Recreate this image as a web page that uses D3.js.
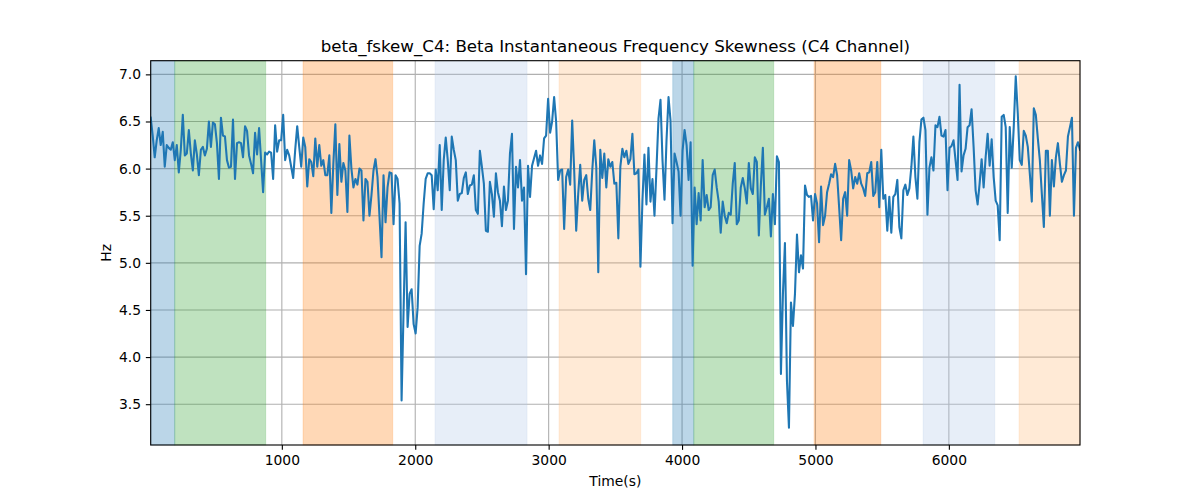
<!DOCTYPE html>
<html>
<head>
<meta charset="utf-8">
<script src="https://cdn.jsdelivr.net/npm/d3@7"></script>
<style>
  html, body { margin: 0; padding: 0; background: #fff; }
  svg { display: block; font-family: "DejaVu Sans", sans-serif; }
</style>
</head>
<body>
<svg id="chart" width="1200" height="500"></svg>
<script>
// ---- data ----
const titleText = "beta_fskew_C4: Beta Instantaneous Frequency Skewness (C4 Channel)";
const xLabel = "Time(s)";
const yLabel = "Hz";
const xDomain = [17, 6983];
const yDomain = [3.067, 7.145];
const xTicks = [1000, 2000, 3000, 4000, 5000, 6000];
const yTicks = [3.5, 4.0, 4.5, 5.0, 5.5, 6.0, 6.5, 7.0];
const timeStart = 17;
const timeStep = 15.045;

const values = [
  // 17 - 880 s
  6.54, 6.35, 6.12, 6.30, 6.43, 6.25, 6.39, 6.02, 6.25, 6.22, 6.20, 6.28, 6.09, 6.25, 5.96, 6.20, 6.57, 6.14, 6.16, 6.41,
  6.16, 5.98, 6.30, 6.15, 5.93, 6.20, 6.23, 6.14, 6.21, 6.50, 6.23, 6.49, 6.47, 6.27, 5.89, 6.54, 6.35, 6.34, 6.09, 6.01,
  6.02, 6.52, 5.89, 6.27, 6.28, 6.27, 6.12, 6.45, 6.40, 6.14, 6.05, 5.95, 6.38, 6.15, 6.43, 6.09, 5.75, 6.17,
  // ~900 - 1760 s
  6.15, 6.18, 6.17, 5.89, 6.46, 6.18, 6.30, 6.30, 6.57, 6.09, 6.20, 6.14, 6.02, 5.90, 6.20, 6.45, 6.23, 6.02, 6.33, 6.23,
  5.81, 6.10, 6.07, 5.92, 6.32, 6.02, 6.25, 6.03, 6.09, 5.93, 5.93, 6.14, 5.53, 6.05, 6.47, 5.72, 6.26, 5.86, 6.06, 5.98,
  5.54, 6.35, 6.00, 5.80, 5.89, 5.83, 6.00, 5.98, 5.45, 5.89, 5.86, 5.50, 5.72, 5.98, 6.10, 5.91, 5.49, 5.06,
  // ~1780 - 2630 s
  5.93, 5.43, 5.80, 5.96, 5.95, 5.41, 5.93, 5.89, 5.63, 3.54, 4.50, 5.43, 4.32, 4.67, 4.72, 4.35, 4.25, 4.53, 5.18, 5.31,
  5.63, 5.89, 5.95, 5.95, 5.93, 5.57, 5.99, 5.77, 6.25, 5.56, 6.09, 6.33, 6.09, 5.77, 6.34, 6.20, 6.09, 5.66, 5.73, 5.74,
  5.90, 5.96, 5.73, 5.82, 5.83, 5.93, 5.56, 5.52, 6.19, 6.02, 5.84, 5.34, 5.33, 5.86, 5.73, 5.49, 5.95,
  // ~2640 - 3510 s
  5.75, 5.66, 5.39, 5.81, 5.56, 5.66, 6.16, 6.37, 5.36, 6.02, 5.80, 6.09, 5.66, 5.80, 4.88, 6.03, 5.70, 6.03, 6.11, 6.19,
  6.03, 6.14, 6.05, 6.32, 6.35, 6.74, 6.38, 6.50, 6.76, 6.50, 5.88, 5.98, 5.99, 5.36, 5.91, 5.99, 5.83, 6.51, 5.98, 5.34,
  5.73, 6.04, 5.66, 5.88, 5.93, 5.68, 5.56, 5.98, 6.30, 6.02, 4.90, 6.20, 5.90, 6.16, 5.80, 6.10, 6.02, 6.07, 5.84,
  // ~3520 - 4380 s
  5.85, 5.26, 6.02, 6.21, 6.12, 6.19, 6.05, 6.10, 6.37, 5.94, 5.95, 5.99, 4.96, 5.66, 6.15, 5.62, 6.22, 5.65, 5.89, 5.50,
  6.00, 6.53, 6.73, 6.09, 5.67, 6.30, 6.76, 6.51, 5.42, 6.16, 6.07, 5.97, 5.50, 6.19, 6.41, 6.25, 5.88, 6.28, 4.97, 5.80,
  5.41, 5.74, 5.45, 6.09, 5.59, 5.72, 5.56, 5.59, 5.93, 5.99, 5.80, 5.65, 5.32, 5.65, 5.50, 5.42, 5.53, 5.51,
  // ~4390 - 5250 s
  5.84, 6.06, 5.41, 5.45, 5.80, 5.90, 5.79, 5.63, 6.06, 5.79, 5.73, 6.12, 6.07, 5.29, 5.82, 6.22, 5.51, 5.59, 5.68, 5.28,
  5.73, 5.41, 6.13, 6.07, 3.82, 4.67, 5.21, 3.75, 3.25, 4.58, 4.33, 4.67, 5.30, 4.90, 5.08, 4.94, 5.82, 5.72, 5.70, 5.71,
  5.45, 5.73, 5.63, 5.22, 5.81, 5.40, 5.50, 5.75, 5.84, 5.94, 5.91, 6.05, 5.93, 5.59, 5.24, 5.68, 5.75, 5.50,
  // ~5260 - 6120 s
  6.09, 5.98, 5.79, 5.91, 5.84, 5.95, 5.84, 5.79, 5.71, 5.95, 5.96, 6.07, 5.71, 5.75, 6.07, 5.59, 6.20, 5.68, 5.72, 5.34,
  5.70, 5.32, 5.70, 5.73, 5.88, 5.38, 5.26, 5.77, 5.83, 5.72, 5.79, 6.02, 6.34, 5.91, 5.68, 6.28, 6.52, 6.54, 6.41, 5.51,
  6.01, 6.12, 5.98, 6.46, 6.44, 6.55, 6.35, 6.34, 6.41, 5.77, 6.22, 6.24, 6.30, 6.09, 5.88, 6.89, 5.97, 6.14,
  // ~6130 - 6983 s
  6.21, 6.44, 6.46, 6.63, 6.23, 5.77, 5.62, 5.84, 6.10, 5.80, 6.12, 6.37, 6.03, 6.31, 5.91, 5.66, 5.61, 5.24, 6.55, 6.57,
  6.44, 5.53, 6.44, 6.01, 6.44, 6.98, 6.59, 6.09, 6.04, 6.40, 6.35, 6.23, 5.95, 5.65, 6.64, 6.57, 6.32, 6.09, 5.73, 5.38,
  6.19, 6.19, 5.50, 6.09, 5.81, 6.12, 6.27, 6.05, 5.86, 5.93, 5.98, 6.34, 6.44, 6.54, 5.50, 6.22, 6.28, 6.20
];

const spanStarts = [17, 197, 1159, 2148, 3078, 3930, 4088, 4990, 5807, 6526];
const spanEnds   = [197, 879, 1831, 2838, 3690, 4088, 4687, 5490, 6344, 6983];
const spanKinds  = ["blue", "green", "orange", "lightblue", "lightorange", "blue", "green", "orange", "lightblue", "lightorange"];

// ---- styling ----
const spanColor = {
  blue: "#1f77b4", green: "#2ca02c", orange: "#ff7f0e", lightblue: "#aec7e8", lightorange: "#ffbb78"
};
const margin = { left: 150.7, right: 1080, top: 60.7, bottom: 445 };
const PT = 100 / 72;

const svg = d3.select("#chart");
const x = d3.scaleLinear().domain(xDomain).range([margin.left, margin.right]);
const y = d3.scaleLinear().domain(yDomain).range([margin.bottom, margin.top]);

const data = values.map((v, i) => ({ t: timeStart + i * timeStep, v }));
const spans = spanStarts.map((s, i) => ({ s, e: spanEnds[i], k: spanKinds[i] }));

// grid
const grid = svg.append("g");
grid.selectAll(".gx").data(xTicks).join("line")
  .attr("x1", d => x(d)).attr("x2", d => x(d))
  .attr("y1", margin.top).attr("y2", margin.bottom)
  .attr("stroke", "#b0b0b0").attr("stroke-width", 0.8 * PT);
grid.selectAll(".gy").data(yTicks).join("line")
  .attr("x1", margin.left).attr("x2", margin.right)
  .attr("y1", d => y(d)).attr("y2", d => y(d))
  .attr("stroke", "#b0b0b0").attr("stroke-width", 0.8 * PT);

// spans
svg.append("g").selectAll("rect").data(spans).join("rect")
  .attr("x", d => x(d.s)).attr("width", d => x(d.e) - x(d.s))
  .attr("y", margin.top).attr("height", margin.bottom - margin.top)
  .attr("fill", d => spanColor[d.k]).attr("fill-opacity", 0.3)
  .attr("stroke", d => spanColor[d.k]).attr("stroke-opacity", 0.2).attr("stroke-width", 1);

// line
const clipId = "plotclip";
svg.append("clipPath").attr("id", clipId).append("rect")
  .attr("x", margin.left).attr("y", margin.top)
  .attr("width", margin.right - margin.left).attr("height", margin.bottom - margin.top);
svg.append("path").datum(data)
  .attr("clip-path", `url(#${clipId})`)
  .attr("fill", "none").attr("stroke", "#1f77b4").attr("stroke-width", 1.5 * PT)
  .attr("stroke-linejoin", "round").attr("stroke-linecap", "square")
  .attr("d", d3.line().x(d => x(d.t)).y(d => y(d.v)));

// axes
const xAxis = svg.append("g").attr("transform", `translate(0,${margin.bottom})`)
  .call(d3.axisBottom(x).tickValues(xTicks).tickFormat(d3.format("d")).tickSize(3.5 * PT).tickPadding(3.5 * PT));
const yAxis = svg.append("g").attr("transform", `translate(${margin.left},0)`)
  .call(d3.axisLeft(y).tickValues(yTicks).tickFormat(d3.format(".1f")).tickSize(3.5 * PT).tickPadding(3.5 * PT));
[xAxis, yAxis].forEach(g => {
  g.select(".domain").remove();
  g.selectAll(".tick line").attr("stroke", "#000").attr("stroke-width", 0.8 * PT);
  g.selectAll(".tick text").attr("fill", "#000").style("font-size", (10 * PT) + "px")
    .style("font-family", "'DejaVu Sans', sans-serif");
});

// frame
svg.append("rect")
  .attr("x", margin.left).attr("y", margin.top)
  .attr("width", margin.right - margin.left).attr("height", margin.bottom - margin.top)
  .attr("fill", "none").attr("stroke", "#000").attr("stroke-width", 0.8 * PT);

// labels
svg.append("text").attr("x", (margin.left + margin.right) / 2).attr("y", 52)
  .attr("text-anchor", "middle").style("font-size", (12 * PT) + "px").text(titleText);
svg.append("text").attr("x", (margin.left + margin.right) / 2).attr("y", 486)
  .attr("text-anchor", "middle").style("font-size", (10 * PT) + "px").text(xLabel);
svg.append("text").attr("transform", `translate(111,${(margin.top + margin.bottom) / 2}) rotate(-90)`)
  .attr("text-anchor", "middle").style("font-size", (10 * PT) + "px").text(yLabel);
</script>
</body>
</html>
